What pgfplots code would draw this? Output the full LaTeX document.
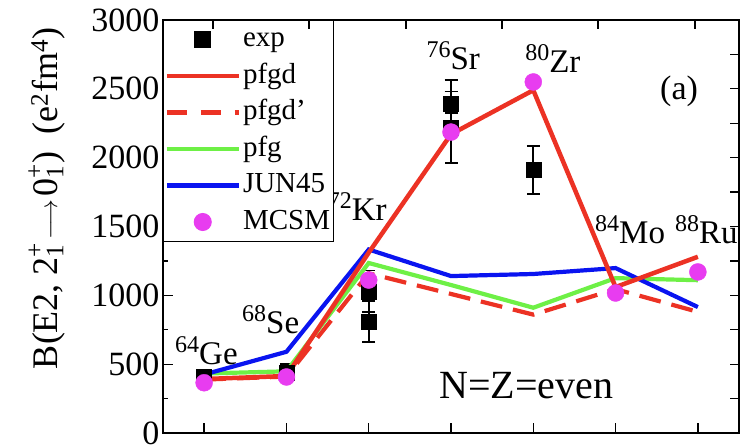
\documentclass[border=0pt]{standalone}
\usepackage{amsmath}
\usepackage{fontspec}
\setmainfont{Liberation Serif}
\usepackage{pgfplots}
\pgfplotsset{compat=1.18}
\usetikzlibrary{calc}
\definecolor{cred}{RGB}{236,50,36}
\definecolor{cgreen}{RGB}{110,240,70}
\definecolor{cblue}{RGB}{10,20,240}
\definecolor{cmag}{RGB}{232,60,240}
\newcommand{\iso}[2]{\raisebox{12pt}{\fontsize{24}{24}\selectfont #1}#2}
\begin{document}
\begin{tikzpicture}
\begin{axis}[name=main, scale only axis, width=576pt, height=413pt,
  xmin=-0.5, xmax=6.5, ymin=0, ymax=3000,
  xtick={0,...,6}, xticklabels={},
  ytick={0,500,...,3000}, minor ytick={250,750,...,2750},
  xtick pos=left, ytick pos=left, tick align=inside,
  major tick length=10pt, minor tick length=5pt,
  every tick/.style={black, line width=1.3pt},
  axis line style={line width=1.5pt},
  /pgf/number format/assume math mode=true,
  /pgf/number format/1000 sep={},
  ticklabel style={font=\fontsize{34}{34}\selectfont},
  clip=false,
  ylabel={B(E2, $\text{2}_{\text{1}}^{\text{+}}\!\longrightarrow\!\text{0}_{\text{1}}^{\text{+}}$)\ \ (e$^{\text{2}}$fm$^{\text{4}}$)},
  ylabel style={at={(axis description cs:-0.184,0.568)}, anchor=base, font=\fontsize{36}{36}\selectfont},
  legend style={at={(0,1)}, anchor=north west, draw=black, line width=1pt, fill=white,
    inner xsep=1pt, inner ysep=3pt, row sep=4.5pt, font=\fontsize{29}{29}\selectfont,
    nodes={inner sep=2pt, text height=21pt, text depth=7pt}, cells={anchor=west}},
  legend image code/.code={\draw[mark repeat=2,mark phase=2,#1] plot coordinates {(0pt,0pt) (36pt,0pt) (72pt,0pt)};},
]
\addlegendimage{only marks, mark=square*, mark size=8pt, black}
\addlegendentry{exp}
\addlegendimage{cred, line width=4.5pt}
\addlegendentry{pfgd}
\addlegendimage{cred, line width=4.5pt, dash pattern=on 20pt off 14pt}
\addlegendentry{pfgd'}
\addlegendimage{cgreen, line width=4.5pt}
\addlegendentry{pfg}
\addlegendimage{cblue, line width=4.5pt}
\addlegendentry{JUN45}
\addlegendimage{only marks, mark=*, mark size=8.5pt, cmag}
\addlegendentry{MCSM}

% exp
\addplot[forget plot, only marks, mark=square*, mark size=7.5pt, black,
  error bars/.cd, y dir=both, y explicit,
  error bar style={line width=1.8pt, black},
  error mark options={rotate=90, mark size=6.5pt, line width=1.8pt, black}]
coordinates {
(0,410) +- (0,30)
(1,440) +- (0,60)
(2,1030) +- (0,150)
(2,810) +- (0,150)
(3,2390) += (0,175) -= (0,65)
(3,2220) +- (0,260)
(4,1910) +- (0,175)
};
% pfgd'
\addplot[forget plot, cred, line width=4.2pt, dash pattern=on 22pt off 11pt] coordinates {
(0,388) (1,410) (2,1160) (3,1010) (4,860) (5,1045) (6,880)};
% pfg
\addplot[forget plot, cgreen, line width=4.2pt] coordinates {
(0,432) (1,448) (2,1235) (3,1075) (4,910) (5,1125) (6,1110)};
% JUN45
\addplot[forget plot, cblue, line width=4.2pt] coordinates {
(0,425) (1,590) (2,1333) (3,1140) (4,1155) (5,1198) (6,915)};
% pfgd
\addplot[forget plot, cred, line width=4.5pt] coordinates {
(0,392) (1,414) (2,1310) (3,2170) (4,2490) (5,1060) (6,1280)};
% MCSM
\addplot[forget plot, only marks, mark=*, mark size=8.5pt, cmag, draw=cmag] coordinates {
(0,365) (1,407) (2,1111) (3,2186) (4,2550) (5,1017) (6,1170)};

\begin{scope}[every node/.style={anchor=base west, inner sep=0pt, font=\fontsize{33}{33}\selectfont}]
\node at (axis cs:-0.354,494) {\iso{64}{Ge}};
\node at (axis cs:0.46,726) {\iso{68}{Se}};
\node at (axis cs:1.50,1540) {\iso{72}{Kr}};
\node at (axis cs:2.70,2637) {\iso{76}{Sr}};
\node at (axis cs:3.90,2622) {\iso{80}{Zr}};
\node at (axis cs:4.75,1380) {\iso{84}{Mo}};
\node at (axis cs:5.72,1380) {\iso{88}{Ru}};
\end{scope}
\node[anchor=base west, inner sep=0pt, font=\fontsize{40}{40}\selectfont] at (axis cs:2.854,254) {N=Z=even};
\node[anchor=base west, inner sep=0pt, font=\fontsize{34}{34}\selectfont] at (axis cs:5.54,2419) {(a)};
\end{axis}
\begin{axis}[scale only axis, width=576pt, height=413pt,
  xmin=-0.5, xmax=6.5, ymin=0, ymax=3000,
  axis line style={draw=none},
  xtick={0.108,1.274,2.453,3.62,4.786,5.965}, ytick={0,250,...,3000},
  xticklabels={}, yticklabels={},
  xtick pos=right, ytick pos=right, tick align=inside,
  major tick length=9pt, every tick/.style={black, line width=1.3pt}]
\end{axis}
\pgfresetboundingbox
\path[use as bounding box] ($(main.south west)+(-163pt,-14pt)$) rectangle ($(main.north east)+(7pt,20pt)$);
\end{tikzpicture}
\end{document}
